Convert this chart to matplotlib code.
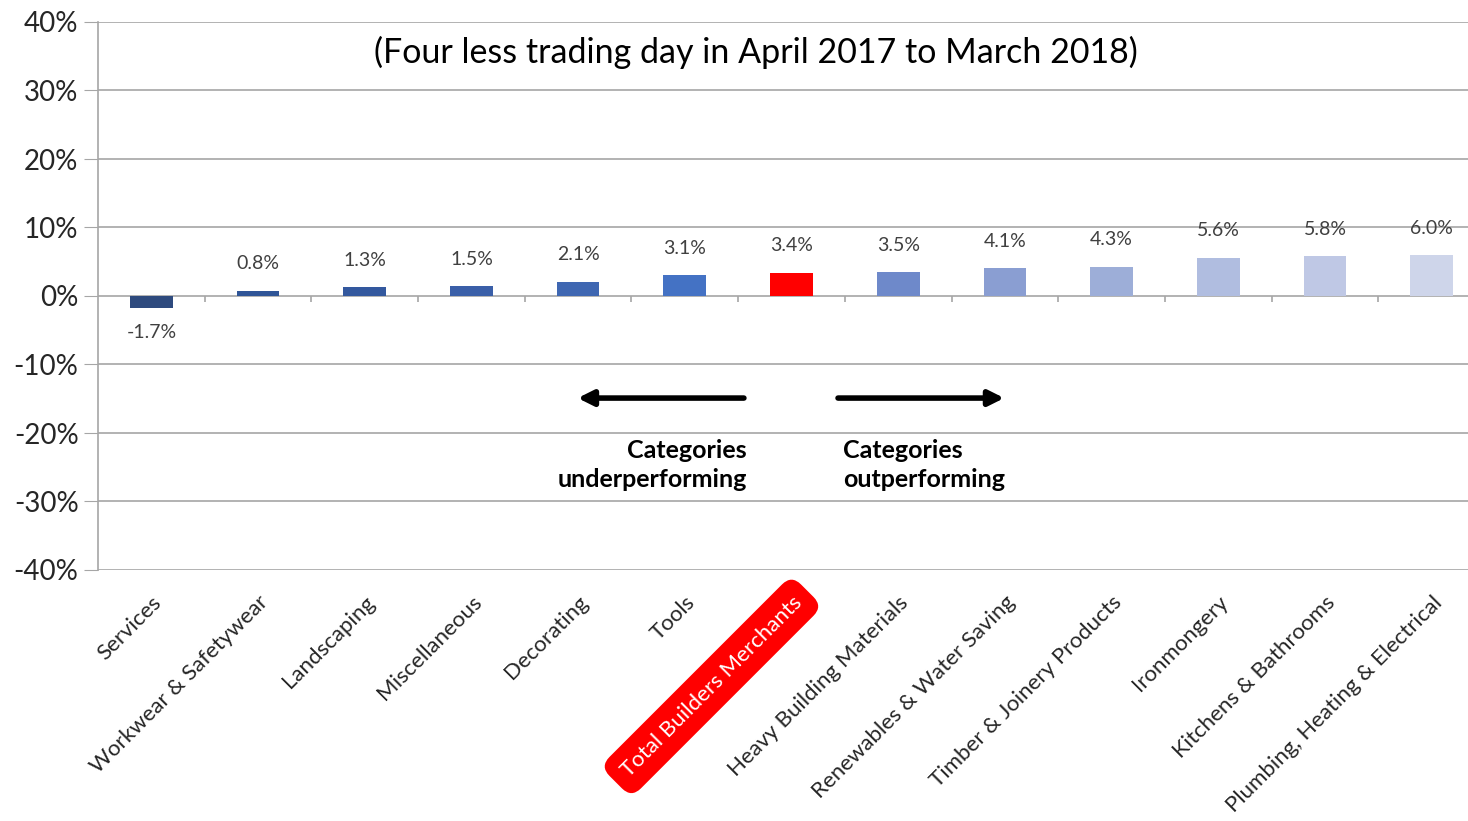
import matplotlib.pyplot as plt
import numpy as np

plt.rcParams['font.family'] = ['Lato', 'DejaVu Sans']

categories = ["Services", "Workwear & Safetywear", "Landscaping", "Miscellaneous",
              "Decorating", "Tools", "Total Builders Merchants", "Heavy Building Materials",
              "Renewables & Water Saving", "Timber & Joinery Products", "Ironmongery",
              "Kitchens & Bathrooms", "Plumbing, Heating & Electrical"]
values = [-1.7, 0.8, 1.3, 1.5, 2.1, 3.1, 3.4, 3.5, 4.1, 4.3, 5.6, 5.8, 6.0]
colors = ["#2E4A7E", "#2F5597", "#33589E", "#3A5FA8", "#3F67B2", "#4472C4", "#FF0000",
          "#6E89CA", "#8A9ED2", "#9DAED8", "#B0BDE0", "#BFC8E5", "#CED5EA"]
yticks = [-40, -30, -20, -10, 0, 10, 20, 30, 40]
highlight = "Total Builders Merchants"

fig = plt.figure(figsize=(14.68, 8.21), dpi=100)
ax = fig.add_axes([98 / 1468, 1 - 570 / 821, (1485 - 98) / 1468, (570 - 22) / 821])

x = np.arange(len(categories))
ax.bar(x, values, width=0.4, color=colors, zorder=3)

for xi, v in zip(x, values):
    if v < 0:
        ax.text(xi, v - 3.6, f"{v:.1f}%", ha='center', va='center', fontsize=14, color='#404040')
    else:
        ax.text(xi, v + 3.9, f"{v:.1f}%", ha='center', va='center', fontsize=14, color='#404040')

ax.set_xlim(-0.5, len(categories) - 0.5)
ax.set_ylim(-40, 40)
ax.set_yticks(yticks)
ax.set_yticklabels([f"{t}%" for t in yticks], fontsize=20, color='#262626')
ax.yaxis.grid(True, color='#A6A6A6', linewidth=1.2, zorder=0)
ax.tick_params(axis='y', length=10, color='#A6A6A6', pad=4)

for s in ['top', 'right', 'bottom']:
    ax.spines[s].set_visible(False)
ax.spines['left'].set_color('#A6A6A6')
ax.spines['left'].set_linewidth(1.2)

# category separators on the zero line
ax.vlines(x[:-1] + 0.5, -0.9, 0, color='#A6A6A6', linewidth=1.2, zorder=2)

ax.set_xticks(x)
ax.set_xticklabels(categories, rotation=45, ha='right', rotation_mode='anchor',
                   fontsize=16, color='#262626')
ax.tick_params(axis='x', length=0, pad=16)
for lab in ax.get_xticklabels():
    if lab.get_text() == highlight:
        lab.set_color('white')
        lab.set_bbox(dict(boxstyle='round,pad=0.55,rounding_size=0.6', fc='#FF0000', ec='none'))

ax.text(5.67, 35.5, "(Four less trading day in April 2017 to March 2018)",
        ha='center', va='center', fontsize=24.5, color='black')

ax.annotate("", xy=(3.97, -14.9), xytext=(5.58, -14.9),
            arrowprops=dict(arrowstyle='-|>,head_length=0.9,head_width=0.45', lw=4, color='black'))
ax.annotate("", xy=(8.02, -14.9), xytext=(6.41, -14.9),
            arrowprops=dict(arrowstyle='-|>,head_length=0.9,head_width=0.45', lw=4, color='black'))

ax.text(5.58, -24.7, "Categories\nunderperforming", ha='right', va='center',
        fontsize=18, fontweight='bold', linespacing=1.3)
ax.text(6.48, -24.7, "Categories\noutperforming", ha='left', va='center',
        fontsize=18, fontweight='bold', linespacing=1.3)

fig.savefig("out.png", dpi=100)
